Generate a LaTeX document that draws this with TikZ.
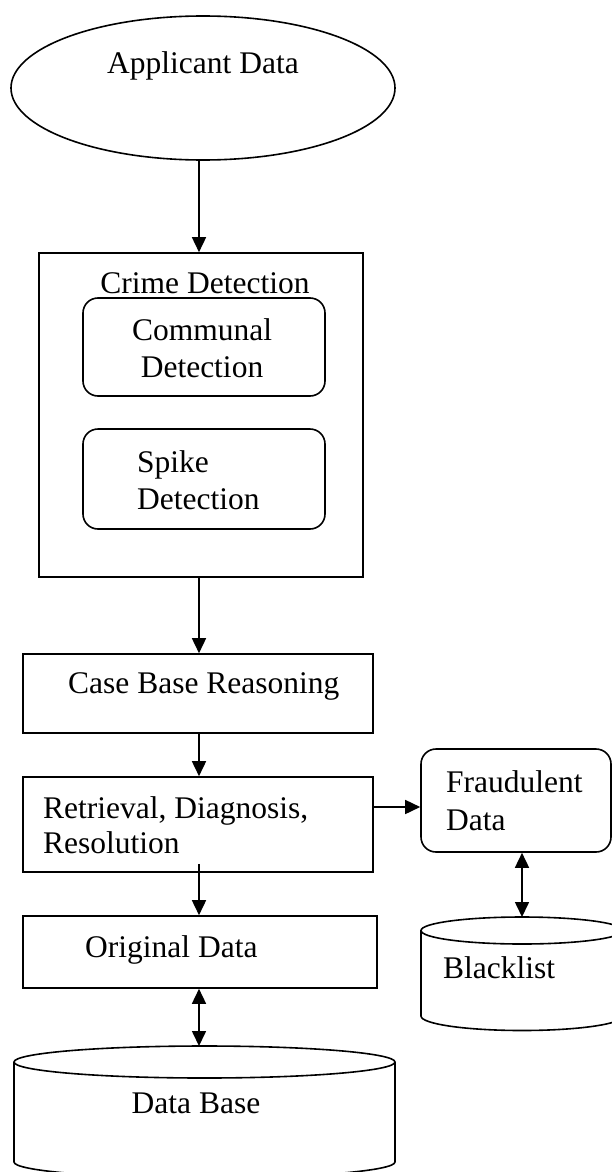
\documentclass[tikz,border=0pt]{standalone}
\usepackage{fontspec}
\setmainfont{Liberation Serif}
\usetikzlibrary{shapes.geometric,arrows.meta}

\definecolor{linecolor}{RGB}{0,0,0}

\begin{document}
\begin{tikzpicture}[x=1pt,y=1pt,
        box/.style={draw=linecolor, line width=1.6pt, rectangle, inner sep=0pt},
        roundbox/.style={box, rounded corners=15pt},
        txt/.style={font=\fontsize{31.5}{37}\selectfont, inner sep=0pt},
        arr/.style={draw=linecolor, line width=1.6pt, -{Triangle[length=15pt,width=14pt]}},
        dblarr/.style={draw=linecolor, line width=1.6pt, {Triangle[length=15pt,width=14pt]}-{Triangle[length=15pt,width=14pt]}}]

        % Page frame
        \useasboundingbox (0,0) rectangle (612,-1172);
        \clip (0,0) rectangle (612,-1172);

        % Applicant data
        \node[draw=linecolor, ellipse, line width=1.6pt, minimum width=384pt, minimum height=144pt, inner sep=0pt] (appl) at (203,-88) {};
        \node[txt, anchor=base] (appltext) at (203,-74) {Applicant Data};

        % Crime detection with its two parts
        \node[box, minimum width=324pt, minimum height=324pt] (crime) at (201,-415) {};
        \node[txt, anchor=base] (crimetext) at (205,-293) {Crime Detection};
        \node[roundbox, minimum width=242pt, minimum height=98pt] (comm) at (204,-347) {};
        \node[txt, align=center, anchor=base] (commtext) at (202,-377) {Communal\\Detection};
        \node[roundbox, minimum width=242pt, minimum height=100pt] (spike) at (204,-479) {};
        \node[txt, align=left, anchor=base west] (spiketext) at (137,-509) {Spike\\Detection};

        % Reasoning steps
        \node[box, minimum width=350pt, minimum height=79pt] (cbr) at (198,-693.5) {};
        \node[txt, anchor=base west] (cbrtext) at (68,-693) {Case Base Reasoning};
        \node[box, minimum width=350pt, minimum height=95pt] (rdr) at (198,-824.5) {};
        \node[txt, align=left, anchor=base west] (rdrtext) at (43,-853) {Retrieval, Diagnosis,\\[-2pt]Resolution};
        \node[box, minimum width=354pt, minimum height=72pt] (orig) at (200,-952) {};
        \node[txt, anchor=base west] (origtext) at (85,-957) {Original Data};

        % Fraudulent data
        \node[roundbox, minimum width=190pt, minimum height=103pt] (fraud) at (516,-800.5) {};
        \node[txt, align=left, anchor=base west] (fraudtext) at (446,-830) {Fraudulent\\[1pt]Data};

        % Data base cylinder
        \draw[linecolor, line width=1.6pt] (204.5,-1062) ellipse (190.5 and 16);
        \draw[linecolor, line width=1.6pt] (14,-1062) -- (14,-1162) arc (180:360:190.5 and 16) -- (395,-1062);
        \node[txt, anchor=base] (dbase) at (196,-1113) {Data Base};
        \coordinate (dbtop) at (199,-1046);

        % Blacklist cylinder
        \draw[linecolor, line width=1.6pt] (522,-930.5) ellipse (101 and 13.5);
        \draw[linecolor, line width=1.6pt] (421,-930.5) -- (421,-1016) arc (180:360:101 and 14.5) -- (623,-930.5);
        \node[txt, anchor=base west] (black) at (443,-978) {Blacklist};
        \coordinate (bltop) at (522,-917);

        % Connectors
        \coordinate (spine) at (199,0);
        \draw[arr] (spine |- appl.south) -- (spine |- crime.north);
        \draw[arr] (spine |- crime.south) -- (spine |- cbr.north);
        \draw[arr] (spine |- cbr.south) -- (spine |- rdr.north);
        \draw[arr] ([yshift=9pt]spine |- rdr.south) -- (spine |- orig.north);
        \draw[dblarr] (spine |- orig.south) -- (dbtop);
        \draw[arr] ([yshift=17.5pt]rdr.east) -- ([yshift=17.5pt]rdr.east -| fraud.west);
        \draw[dblarr] (bltop |- fraud.south) -- (bltop);
\end{tikzpicture}
\end{document}
